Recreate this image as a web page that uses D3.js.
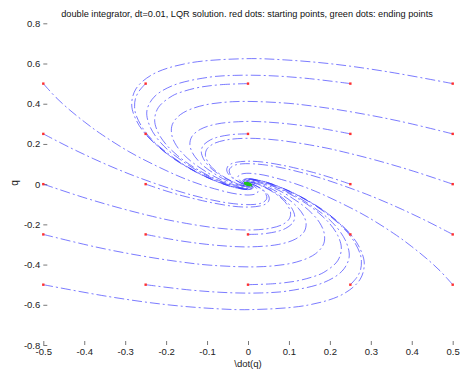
<!DOCTYPE html>
<html>
<head>
<meta charset="utf-8">
<script src="https://cdn.jsdelivr.net/npm/d3@7"></script>
<style>
  body { margin: 0; background: #fff; }
  svg { display: block; font-family: "Liberation Sans", Arial, sans-serif; }
</style>
</head>
<body>
<script>
// tick values + labels
const xTicks = [-0.5, -0.4, -0.3, -0.2, -0.1, 0, 0.1, 0.2, 0.3, 0.4, 0.5];
const yTicks = [-0.8, -0.6, -0.4, -0.2, 0, 0.2, 0.4, 0.6, 0.8];
const title = "double integrator, dt=0.01, LQR solution. red dots: starting points, green dots: ending points";

// one row per run: \dot(q) values
const trajV = [
  [0, -.032, -.058, -.077, -.092, -.110, -.114, -.109, -.099, -.086, -.071, -.057, -.044, -.026, -.014, -.005, .001, .004, .005, .005, .004, .002],
  [-.25, -.234, -.217, -.200, -.181, -.145, -.112, -.082, -.056, -.036, -.019, -.007, .001, .009, .012, .012, .010, .008, .006, .004, .001, 0],
  [-.5, -.437, -.377, -.322, -.270, -.181, -.109, -.054, -.013, .015, .033, .042, .046, .044, .037, .029, .020, .013, .007, .003, -.001, -.002],
  [.25, .171, .102, .045, -.003, -.074, -.116, -.137, -.142, -.136, -.123, -.107, -.088, -.062, -.039, -.021, -.009, -.001, .004, .006, .006, .004],
  [.5, .373, .262, .167, .086, -.038, -.119, -.165, -.185, -.186, -.175, -.156, -.133, -.097, -.065, -.038, -.018, -.005, .003, .007, .008, .005],
  [0, -.064, -.115, -.155, -.185, -.219, -.228, -.219, -.199, -.172, -.143, -.114, -.087, -.053, -.027, -.009, .002, .008, .010, .010, .007, .003],
  [-.25, -.266, -.275, -.277, -.274, -.255, -.226, -.191, -.156, -.122, -.091, -.064, -.042, -.017, -.002, .007, .011, .012, .011, .009, .005, .002],
  [-.5, -.469, -.435, -.399, -.363, -.291, -.223, -.164, -.113, -.071, -.039, -.015, .003, .018, .024, .024, .021, .016, .012, .008, .003, 0],
  [.25, .139, .045, -.033, -.095, -.183, -.230, -.247, -.241, -.222, -.195, -.163, -.132, -.088, -.053, -.026, -.008, .003, .009, .011, .009, .005],
  [.5, .341, .205, .090, -.006, -.148, -.233, -.274, -.284, -.272, -.247, -.213, -.177, -.124, -.078, -.043, -.017, -.001, .008, .012, .012, .007],
  [.25, .203, .160, .122, .089, .036, -.002, -.028, -.043, -.050, -.052, -.050, -.045, -.035, -.025, -.017, -.010, -.004, -.001, .001, .002, .002],
  [.5, .405, .320, .244, .178, .072, -.005, -.055, -.086, -.101, -.104, -.099, -.090, -.071, -.051, -.033, -.019, -.009, -.002, .002, .004, .004],
  [0, .032, .058, .077, .092, .110, .114, .109, .099, .086, .071, .057, .044, .026, .014, .005, -.001, -.004, -.005, -.005, -.004, -.002],
  [.25, .234, .217, .200, .181, .145, .112, .082, .056, .036, .019, .007, -.001, -.009, -.012, -.012, -.010, -.008, -.006, -.004, -.001, 0],
  [.5, .437, .377, .322, .270, .181, .109, .054, .013, -.015, -.033, -.042, -.046, -.044, -.037, -.029, -.020, -.013, -.007, -.003, .001, .002],
  [-.25, -.171, -.102, -.045, .003, .074, .116, .137, .142, .136, .123, .107, .088, .062, .039, .021, .009, .001, -.004, -.006, -.006, -.004],
  [-.5, -.373, -.262, -.167, -.086, .038, .119, .165, .185, .186, .175, .156, .133, .097, .065, .038, .018, .005, -.003, -.007, -.008, -.005],
  [0, .064, .115, .155, .185, .219, .228, .219, .199, .172, .143, .114, .087, .053, .027, .009, -.002, -.008, -.010, -.010, -.007, -.003],
  [.25, .266, .275, .277, .274, .255, .226, .191, .156, .122, .091, .064, .042, .017, .002, -.007, -.011, -.012, -.011, -.009, -.005, -.002],
  [.5, .469, .435, .399, .363, .291, .223, .164, .113, .071, .039, .015, -.003, -.018, -.024, -.024, -.021, -.016, -.012, -.008, -.003, 0],
  [-.25, -.139, -.045, .033, .095, .183, .230, .247, .241, .222, .195, .163, .132, .088, .053, .026, .008, -.003, -.009, -.011, -.009, -.005],
  [-.5, -.341, -.205, -.090, .006, .148, .233, .274, .284, .272, .247, .213, .177, .124, .078, .043, .017, .001, -.008, -.012, -.012, -.007],
  [-.25, -.203, -.160, -.122, -.089, -.036, .002, .028, .043, .050, .052, .050, .045, .035, .025, .017, .010, .004, .001, -.001, -.002, -.002],
  [-.5, -.405, -.320, -.244, -.178, -.072, .005, .055, .086, .101, .104, .099, .090, .071, .051, .033, .019, .009, .002, -.002, -.004, -.004]
];

// matching q values
const trajQ = [
  [.25, .248, .241, .232, .220, .191, .159, .127, .097, .071, .049, .031, .017, .002, -.006, -.010, -.011, -.010, -.008, -.006, -.003, -.001],
  [.25, .216, .184, .154, .127, .081, .045, .018, -.002, -.015, -.022, -.026, -.027, -.024, -.020, -.015, -.010, -.006, -.003, -.001, .001, .001],
  [.25, .184, .126, .077, .035, -.028, -.069, -.092, -.101, -.101, -.094, -.083, -.070, -.051, -.033, -.019, -.009, -.002, .002, .004, .004, .003],
  [.25, .280, .299, .309, .312, .300, .273, .237, .197, .157, .120, .088, .060, .028, .007, -.005, -.012, -.013, -.013, -.011, -.006, -.002],
  [.25, .312, .356, .386, .404, .410, .387, .346, .296, .243, .192, .145, .104, .055, .021, -.001, -.012, -.017, -.018, -.015, -.010, -.004],
  [.5, .495, .483, .463, .439, .381, .318, .254, .195, .142, .098, .062, .033, .004, -.013, -.020, -.022, -.019, -.016, -.012, -.006, -.001],
  [.5, .463, .425, .386, .347, .272, .204, .145, .096, .057, .027, .005, -.010, -.022, -.026, -.025, -.021, -.016, -.011, -.007, -.002, .001],
  [.5, .431, .368, .309, .255, .162, .090, .035, -.004, -.029, -.045, -.052, -.054, -.049, -.040, -.029, -.020, -.012, -.006, -.002, .002, .002],
  [.5, .527, .540, .541, .532, .491, .432, .364, .294, .228, .169, .119, .077, .030, .001, -.015, -.022, -.023, -.021, -.016, -.009, -.003],
  [.5, .559, .598, .618, .624, .601, .546, .473, .393, .314, .241, .176, .120, .057, .014, -.011, -.023, -.027, -.025, -.021, -.013, -.005],
  [0, .032, .058, .077, .092, .110, .114, .109, .099, .086, .071, .057, .044, .026, .014, .005, -.001, -.004, -.005, -.005, -.004, -.002],
  [0, .064, .115, .155, .185, .219, .228, .219, .199, .172, .143, .114, .087, .053, .027, .009, -.002, -.008, -.010, -.010, -.007, -.003],
  [-.25, -.248, -.241, -.232, -.220, -.191, -.159, -.127, -.097, -.071, -.049, -.031, -.017, -.002, .006, .010, .011, .010, .008, .006, .003, .001],
  [-.25, -.216, -.184, -.154, -.127, -.081, -.045, -.018, .002, .015, .022, .026, .027, .024, .020, .015, .010, .006, .003, .001, -.001, -.001],
  [-.25, -.184, -.126, -.077, -.035, .028, .069, .092, .101, .101, .094, .083, .070, .051, .033, .019, .009, .002, -.002, -.004, -.004, -.003],
  [-.25, -.280, -.299, -.309, -.312, -.300, -.273, -.237, -.197, -.157, -.120, -.088, -.060, -.028, -.007, .005, .012, .013, .013, .011, .006, .002],
  [-.25, -.312, -.356, -.386, -.404, -.410, -.387, -.346, -.296, -.243, -.192, -.145, -.104, -.055, -.021, .001, .012, .017, .018, .015, .010, .004],
  [-.5, -.495, -.483, -.463, -.439, -.381, -.318, -.254, -.195, -.142, -.098, -.062, -.033, -.004, .013, .020, .022, .019, .016, .012, .006, .001],
  [-.5, -.463, -.425, -.386, -.347, -.272, -.204, -.145, -.096, -.057, -.027, -.005, .010, .022, .026, .025, .021, .016, .011, .007, .002, -.001],
  [-.5, -.431, -.368, -.309, -.255, -.162, -.090, -.035, .004, .029, .045, .052, .054, .049, .040, .029, .020, .012, .006, .002, -.002, -.002],
  [-.5, -.527, -.540, -.541, -.532, -.491, -.432, -.364, -.294, -.228, -.169, -.119, -.077, -.030, -.001, .015, .022, .023, .021, .016, .009, .003],
  [-.5, -.559, -.598, -.618, -.624, -.601, -.546, -.473, -.393, -.314, -.241, -.176, -.120, -.057, -.014, .011, .023, .027, .025, .021, .013, .005],
  [0, -.032, -.058, -.077, -.092, -.110, -.114, -.109, -.099, -.086, -.071, -.057, -.044, -.026, -.014, -.005, .001, .004, .005, .005, .004, .002],
  [0, -.064, -.115, -.155, -.185, -.219, -.228, -.219, -.199, -.172, -.143, -.114, -.087, -.053, -.027, -.009, .002, .008, .010, .010, .007, .003]
];

const width = 460, height = 372;

const svg = d3.select("body").append("svg")
    .attr("width", width)
    .attr("height", height);

const x = d3.scaleLinear().domain([-0.5, 0.5]).range([43.3, 452.7]);
const y = d3.scaleLinear().domain([-0.8, 0.8]).range([345, 23.3]);

//title
svg.append("text")
    .attr("x", 247)
    .attr("y", 16.5)
    .attr("text-anchor", "middle")
    .attr("font-size", 9.2)
    .attr("fill", "#111")
    .text(title);

//axes, matlab style: ticks inside, no axis line
const fmt = d => String(d);

const xAxis = svg.append("g")
    .attr("transform", `translate(0, ${y(-0.8)})`)
    .call(d3.axisBottom(x).tickValues(xTicks).tickFormat(fmt).tickSize(-4).tickPadding(3.5));

const yAxis = svg.append("g")
    .attr("transform", `translate(${x(-0.5)}, 0)`)
    .call(d3.axisLeft(y).tickValues(yTicks).tickFormat(fmt).tickSize(-4).tickPadding(3));

[xAxis, yAxis].forEach(g => {
    g.select(".domain").remove();
    g.selectAll(".tick line").attr("stroke", "#555").attr("stroke-width", 0.8);
    g.selectAll("text").attr("font-size", 9.5).attr("fill", "#222")
        .attr("font-family", "'Liberation Sans', Arial, sans-serif");
});

svg.append("text")
    .attr("x", 248)
    .attr("y", 367)
    .attr("text-anchor", "middle")
    .attr("font-size", 9.5)
    .attr("fill", "#222")
    .text("\\dot(q)");

svg.append("text")
    .attr("transform", "translate(18, 183) rotate(-90)")
    .attr("text-anchor", "middle")
    .attr("font-size", 10)
    .attr("fill", "#222")
    .text("q");

//runs
const runs = trajV.map((vs, i) => vs.map((v, k) => [v, trajQ[i][k]]));

const line = d3.line()
    .x(d => x(d[0]))
    .y(d => y(d[1]))
    .curve(d3.curveCatmullRom.alpha(0.5));

svg.append("g")
    .selectAll("path")
    .data(runs)
    .enter()
    .append("path")
    .attr("d", line)
    .attr("fill", "none")
    .attr("stroke", "#3030ff")
    .attr("stroke-width", 0.75)
    .attr("stroke-opacity", 0.85)
    .attr("stroke-dasharray", "10,3,2,3");

//start dots (red) and end dots (green)
svg.append("g")
    .selectAll("rect")
    .data(runs)
    .enter()
    .append("rect")
    .attr("x", d => x(d[0][0]) - 1.2)
    .attr("y", d => y(d[0][1]) - 1.2)
    .attr("width", 2.4)
    .attr("height", 2.4)
    .attr("fill", "#ff3030");

svg.append("g")
    .selectAll("rect")
    .data(runs)
    .enter()
    .append("rect")
    .attr("x", d => x(d[d.length - 1][0]) - 1.2)
    .attr("y", d => y(d[d.length - 1][1]) - 1.2)
    .attr("width", 2.4)
    .attr("height", 2.4)
    .attr("fill", "#20c020");
</script>
</body>
</html>
